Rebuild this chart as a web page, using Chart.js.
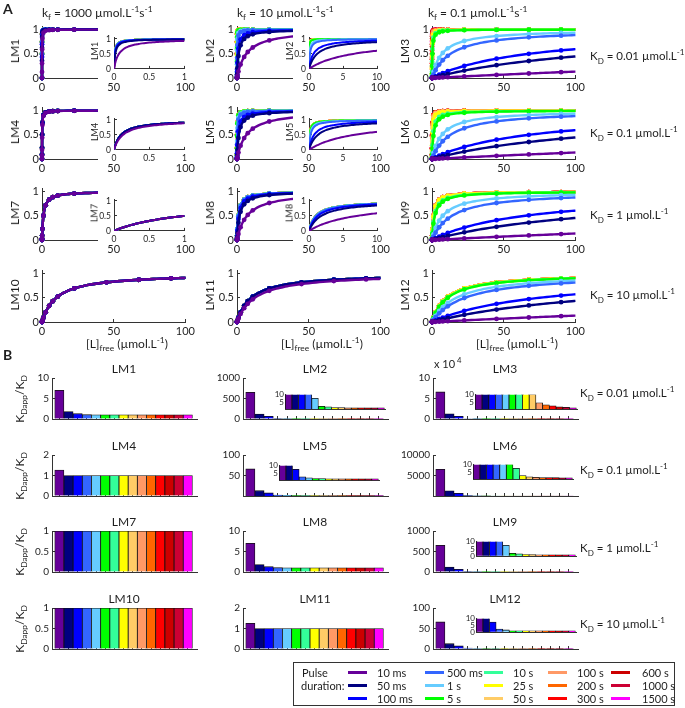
<!DOCTYPE html>
<html>
<head>
<meta charset="utf-8">
<script src="https://cdn.jsdelivr.net/npm/chart.js@4.4.1/dist/chart.umd.min.js"></script>
<style>
  body { margin: 0; background: #fff; }
  #fig { position: relative; width: 685px; height: 708px; overflow: hidden;
         font-family: Lato, "Open Sans", sans-serif; color: #1e1e1e; }
  canvas { position: absolute; }
  .t { position: absolute; white-space: nowrap; line-height: 1; }
  sub, sup { font-size: 70%; line-height: 0; }
  #legend { position: absolute; left: 293px; top: 662px; width: 382px; height: 44px;
            border: 1.5px solid #333; box-sizing: border-box; }
  .sw { position: absolute; width: 19px; height: 3px; }
</style>
</head>
<body>
<div id="fig"></div>
<script>
// pulse durations, legend colours
const pulseLabels = ["10 ms", "50 ms", "100 ms", "500 ms", "1 s", "5 s", "10 s", "25 s",
                     "50 s", "100 s", "200 s", "300 s", "600 s", "1000 s", "1500 s"];
const pulseColors = ["#660099", "#000080", "#0000ff", "#3366ff", "#66ccff", "#00ff00", "#33ff99", "#ffff00",
                     "#ffcc66", "#ff9966", "#ff6600", "#ff0000", "#cc0000", "#cc0033", "#ff00ff"];

const kfLabels = ["1000", "10", "0.1"];        // columns, µmol.L-1 s-1
const kdValues = [0.01, 0.1, 1, 10];           // rows, µmol.L-1
const kdLabels = ["0.01", "0.1", "1", "10"];

// ligand concentrations of the dots in panel A
const ligandConc = [0, 0.01, 0.03, 0.1, 0.3, 1, 2.5, 5, 7.5, 11, 22.5, 45, 67.5, 90];

// KDapp / KD for each pulse duration (panel B)
const ratioLM1  = [7, 1.8, 1.3, 1.05, 1, 1, 1, 1, 1, 1, 1, 1, 1, 1, 1];
const ratioLM2  = [650, 120, 65, 14, 7.5, 2, 1.7, 1.1, 1.05, 1, 1, 1, 1, 1, 1];
const ratioLM3  = [66000, 12500, 6800, 1300, 700, 30, 20, 12, 10.5, 4.5, 3, 2.3, 1.6, 1.3, 1];
const ratioLM4  = [1.27, 1, 1, 1, 1, 1, 1, 1, 1, 1, 1, 1, 1, 1, 1];
const ratioLM5  = [66, 13, 7.5, 2.3, 1.7, 1.1, 1.07, 1, 1, 1, 1, 1, 1, 1, 1];
const ratioLM6  = [6500, 1250, 680, 130, 70, 11, 7.5, 2.5, 1.7, 1.3, 1.15, 1.1, 1.05, 1, 1];
const ratioLM7  = [1, 1, 1, 1, 1, 1, 1, 1, 1, 1, 1, 1, 1, 1, 1];
const ratioLM8  = [7, 1.8, 1.3, 1.05, 1, 1, 1, 1, 1, 1, 1, 1, 1, 1, 1];
const ratioLM9  = [650, 120, 65, 14, 7.5, 2, 1.7, 1.1, 1.05, 1, 1, 1, 1, 1, 1];
const ratioLM10 = [1, 1, 1, 1, 1, 1, 1, 1, 1, 1, 1, 1, 1, 1, 1];
const ratioLM11 = [1.25, 1, 1, 1, 1, 1, 1, 1, 1, 1, 1, 1, 1, 1, 1];
const ratioLM12 = [66, 13, 7.5, 2.3, 1.7, 1.1, 1.07, 1, 1, 1, 1, 1, 1, 1, 1];
const ratios = [ratioLM1, ratioLM2, ratioLM3, ratioLM4, ratioLM5, ratioLM6,
                ratioLM7, ratioLM8, ratioLM9, ratioLM10, ratioLM11, ratioLM12];

// tick labels
const fracTicks = [0, 0.5, 1];
const concTicks = [0, 50, 100];
const insetTicksSmall = [0, 0.5, 1];
const insetTicksLarge = [0, 5, 10];
const barMax   = [10, 1000, 100000, 2, 100, 10000, 1, 10, 1000, 1, 2, 100];
const barTicks = [[0, 5, 10], [0, 500, 1000], [0, 50000, 100000], [0, 1, 2], [50, 100], [5000, 10000],
                  [0, 0.5, 1], [0, 5, 10], [0, 500, 1000], [0, 0.5, 1], [0, 1, 2], [0, 50, 100]];
const barInsetTicks = { 1: [5, 10], 2: [5, 10], 4: [5, 10], 5: [5, 10], 8: [0, 5, 10], 11: [0, 5, 10] };

const FONT = 'Lato, "Open Sans", sans-serif';
const AXIS = "#333";
const TEXT = "#1e1e1e";
const fig = document.getElementById("fig");

Chart.defaults.font.family = FONT;
Chart.defaults.animation = false;
Chart.defaults.events = [];
Chart.defaults.plugins.legend.display = false;
Chart.defaults.plugins.tooltip.enabled = false;

function addText(html, x, y, size, mode) {
  const d = document.createElement("div");
  d.className = "t";
  d.innerHTML = html;
  d.style.left = x + "px";
  d.style.top = y + "px";
  d.style.fontSize = size + "px";
  if (mode == "rot") d.style.transform = "translate(-50%,-50%) rotate(-90deg)";
  else if (mode == "center") d.style.transform = "translate(-50%,-50%)";
  else d.style.transform = "translateY(-50%)";
  fig.appendChild(d);
  return d;
}

function makeCanvas(area, pad, white) {
  const c = document.createElement("canvas");
  const W = area.w + pad.l + pad.r, H = area.h + pad.t + pad.b;
  c.width = W; c.height = H;
  c.style.width = W + "px"; c.style.height = H + "px";
  c.style.left = (area.l - pad.l) + "px";
  c.style.top = (area.t - pad.t) + "px";
  if (white) c.style.background = "#fff";
  fig.appendChild(c);
  return c;
}

// ticks point inwards, like the original
function linAxis(min, max, ticks, size, fit, opts) {
  opts = opts || {};
  return {
    type: "linear", min: min, max: max, offset: false,
    grid: { offset: false, drawOnChartArea: false, drawTicks: !opts.noTicks, tickLength: -3, color: AXIS },
    border: { display: true, color: AXIS, width: 1 },
    ticks: { display: !opts.noLabels, font: { family: FONT, size: size }, color: TEXT,
             padding: opts.noTicks ? 1 : 6,
             maxRotation: 0, autoSkip: false, callback: opts.fmt || (v => String(v)) },
    afterBuildTicks: s => { s.ticks = ticks.map(v => ({ value: v })); },
    afterFit: s => { if (s.isHorizontal()) s.height = fit; else s.width = fit; }
  };
}

// x positions along which the fitted binding curves are drawn
const curveX = [];
for (let i = 0; i < 20; i++) curveX.push(i * 0.005);
for (let i = 0; i < 36; i++) curveX.push(0.1 + i * 0.025);
for (let i = 0; i < 36; i++) curveX.push(1 + i * 0.25);
for (let i = 0; i <= 36; i++) curveX.push(10 + i * 2.5);
const ligandSet = new Set(ligandConc);
const mainX = [...new Set([...curveX, ...ligandConc])].sort((a, b) => a - b);

// fraction bound = [L] / ([L] + KDapp)
function bindingSeries(xs, kapp) {
  return xs.map(x => ({ x: x, y: x / (x + kapp), m: ligandSet.has(x) }));
}

function lineChart(area, pad, idx, xmax, xticks, size, inset) {
  const kd = kdValues[Math.floor(idx / 3)];
  const xs = inset ? curveX.filter(x => x <= xmax) : mainX;
  const canvas = makeCanvas(area, pad, inset);
  return new Chart(canvas, {
    type: "line",
    data: {
      datasets: pulseColors.map((col, i) => ({
        data: bindingSeries(xs, ratios[idx][i] * kd),
        borderColor: col,
        backgroundColor: col,
        borderWidth: inset ? 2 : 2.4,
        pointRadius: ctx => (!inset && ctx.raw && ctx.raw.m) ? 2.4 : 0,
        pointBorderWidth: 0,
        cubicInterpolationMode: "monotone",
        fill: false,
        clip: inset ? 0 : 6
      }))
    },
    options: {
      responsive: false,
      layout: { padding: { left: 0, top: pad.t, right: pad.r, bottom: 0 } },
      scales: {
        x: linAxis(0, xmax, xticks, size, pad.b),
        y: linAxis(0, 1.06, inset ? insetTicksSmall : fracTicks, size, pad.l)
      }
    }
  });
}

function barChart(area, pad, idx, ymax, yticks, size, inset, fmt) {
  const canvas = makeCanvas(area, pad, inset);
  const xs = inset ? [-0.55, 14.6] : [-0.8, 15];
  return new Chart(canvas, {
    type: "bar",
    data: {
      datasets: [{
        data: ratios[idx].map((v, i) => ({ x: i, y: v })),
        backgroundColor: pulseColors,
        borderColor: "#111",
        borderWidth: 0.8,
        barPercentage: 1,
        categoryPercentage: 1
      }]
    },
    options: {
      responsive: false,
      layout: { padding: { left: 0, top: pad.t, right: pad.r, bottom: 0 } },
      scales: {
        x: linAxis(xs[0], xs[1], [...Array(15).keys()], size, pad.b, { noLabels: true, noTicks: inset }),
        y: linAxis(0, ymax, yticks, size, pad.l, { fmt: fmt, noTicks: inset })
      }
    }
  });
}

// ---------- panel A ----------
const aColLeft = [42, 237, 432];
const aRowTop = [22, 103, 184, 266];
const aW = 147, aH = 56;

for (let r = 0; r < 4; r++) {
  for (let c = 0; c < 3; c++) {
    const idx = r * 3 + c;
    const area = { l: aColLeft[c], t: aRowTop[r], w: aW, h: aH };
    lineChart(area, { l: 30, t: 8, r: 12, b: 16 }, idx, 100, concTicks, 11, false);
    addText("LM" + (idx + 1), aColLeft[c] - 27, aRowTop[r] + 29, 12, "rot");
  }
}
// insets
for (let r = 0; r < 3; r++) {
  for (let c = 0; c < 2; c++) {
    const idx = r * 3 + c;
    const area = { l: aColLeft[c] + 72, t: aRowTop[r] + 8, w: 74, h: 39 };
    lineChart(area, { l: 16, t: 4, r: 5, b: 11 }, idx, c == 0 ? 1 : 10,
              c == 0 ? insetTicksSmall : insetTicksLarge, 8.5, true);
    addText("LM" + (idx + 1), area.l - 20, area.t + 21, 9, "rot");
  }
}

addText("A", 3, 9, 14, null).style.fontWeight = "bold";
for (let c = 0; c < 3; c++) {
  addText("k<sub>f</sub> = " + kfLabels[c] + " \u00b5mol.L<sup>-1</sup>s<sup>-1</sup>",
          aColLeft[c] + (c == 2 ? -4 : 0), 13, 12, null);
  addText("[L]<sub>free</sub> (\u00b5mol.L<sup>-1</sup>)", aColLeft[c] + 44, 344, 12, null);
}
const aRowLabelY = [56, 133, 215, 295];
for (let r = 0; r < 4; r++) {
  addText("K<sub>D</sub> = " + kdLabels[r] + " \u00b5mol.L<sup>-1</sup>", 590, aRowLabelY[r], 11.5, null);
}

// ---------- panel B ----------
const bColLeft = [52, 243, 433];
const bRowTop = [372, 449, 525, 602];
const bW = 145, bH = 55;

for (let r = 0; r < 4; r++) {
  for (let c = 0; c < 3; c++) {
    const idx = r * 3 + c;
    const area = { l: bColLeft[c], t: bRowTop[r], w: bW, h: bH };
    const fmt = idx == 2 ? (v => String(v / 10000)) : null;
    barChart(area, { l: 34, t: 6, r: 6, b: 4 }, idx, barMax[idx], barTicks[idx], 10, false, fmt);
    addText("LM" + (idx + 1), bColLeft[c] + 72, bRowTop[r] - 3, 12, "center");
  }
  addText("K<sub>Dapp</sub>/K<sub>D</sub>", 20, bRowTop[r] + 27, 12, "rot");
}
// insets (bars clipped at 10)
const bInsetArea = {
  1:  { l: 285, t: 393, w: 100, h: 20 },
  2:  { l: 475, t: 393, w: 102, h: 20 },
  4:  { l: 279, t: 464, w: 100, h: 20 },
  5:  { l: 473, t: 463, w: 100, h: 20 },
  8:  { l: 476, t: 540, w: 100, h: 20 },
  11: { l: 476, t: 617, w: 100, h: 19 }
};
for (const k in bInsetArea) {
  barChart(bInsetArea[k], { l: 12, t: 4, r: 3, b: 2 }, Number(k), 10, barInsetTicks[k], 8, true, null);
}

addText("B", 3, 355, 14, null).style.fontWeight = "bold";
addText("x 10<sup> 4</sup>", 434, 363, 11, null);
const bRowLabelY = [393, 470, 548, 624];
for (let r = 0; r < 4; r++) {
  addText("K<sub>D</sub> = " + kdLabels[r] + " \u00b5mol.L<sup>-1</sup>", 580, bRowLabelY[r], 11.5, null);
}

// ---------- legend ----------
const legend = document.createElement("div");
legend.id = "legend";
fig.appendChild(legend);
addText("Pulse", 302, 672, 11, null);
addText("duration:", 301, 685, 11, null);
const lgLineX = [348, 425, 484, 548, 611];
const lgTextX = [377, 447, 513, 577, 642];
const lgRowY = [672, 685, 698];
pulseLabels.forEach((lab, i) => {
  const col = Math.floor(i / 3), row = i % 3;
  const sw = document.createElement("div");
  sw.className = "sw";
  sw.style.left = lgLineX[col] + "px";
  sw.style.top = (lgRowY[row] - 1.5) + "px";
  sw.style.background = pulseColors[i];
  fig.appendChild(sw);
  addText(lab, lgTextX[col], lgRowY[row], 11, null);
});
</script>
</body>
</html>
